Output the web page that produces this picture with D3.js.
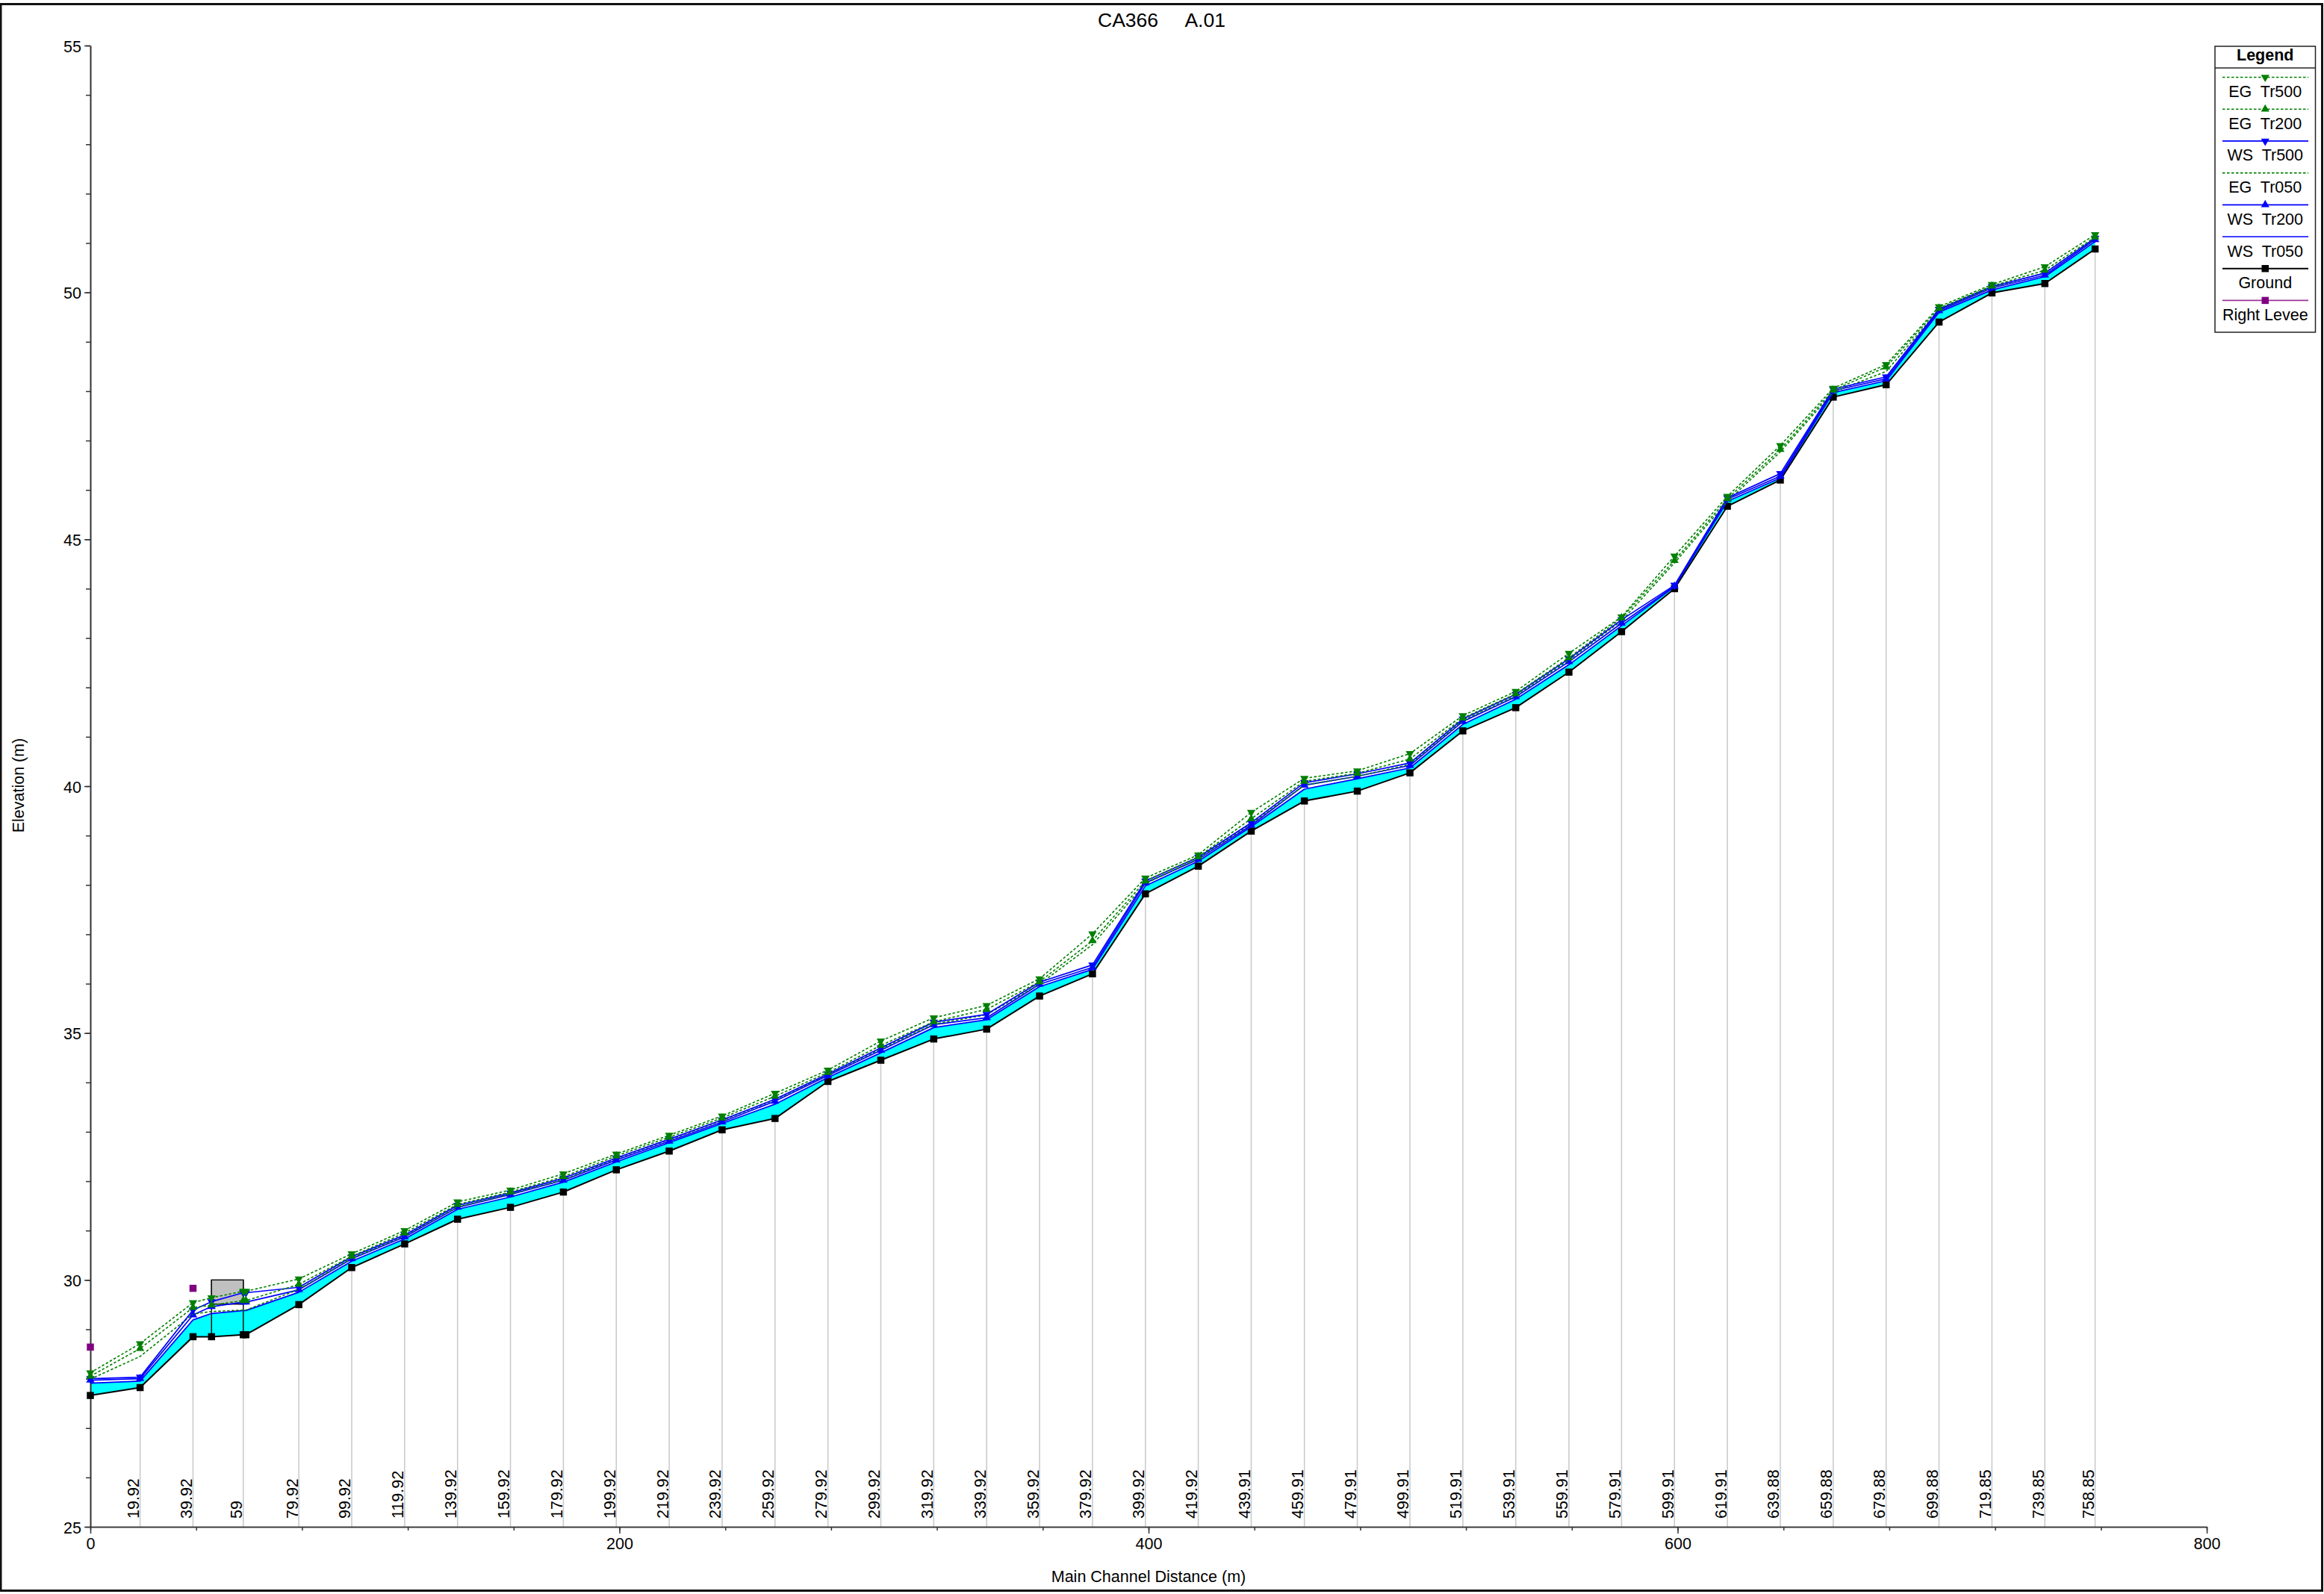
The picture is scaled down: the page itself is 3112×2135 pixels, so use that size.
<!DOCTYPE html>
<html>
<head>
<meta charset="utf-8">
<title>CA366 A.01</title>
<script src="https://cdnjs.cloudflare.com/ajax/libs/d3/7.8.5/d3.min.js"></script>
<style>
html,body{margin:0;padding:0;background:#fff;}
svg{display:block;}
text{font-family:"Liberation Sans",Arial,sans-serif;fill:#000;white-space:pre;}
</style>
</head>
<body>
<div id="chart"></div>
<script>
// ---------- data ----------
const distance = [0,18.8,38.8,45.8,57.8,58.8,78.8,98.8,118.8,138.8,158.8,178.8,198.8,218.8,238.8,258.8,278.8,298.8,318.8,338.8,358.8,378.8,398.8,418.8,438.8,458.9,478.9,498.8,518.8,538.8,558.9,578.8,598.8,618.8,638.8,658.8,678.8,698.8,718.8,738.8,757.8];
const stationLabels = ["","19.92","39.92","","59","","79.92","99.92","119.92","139.92","159.92","179.92","199.92","219.92","239.92","259.92","279.92","299.92","319.92","339.92","359.92","379.92","399.92","419.92","439.91","459.91","479.91","499.91","519.91","539.91","559.91","579.91","599.91","619.91","639.88","659.88","679.88","699.88","719.85","739.85","758.85"];
const ground = [27.66,27.82,28.85,28.85,28.89,28.89,29.50,30.25,30.73,31.23,31.47,31.78,32.23,32.61,33.04,33.27,34.02,34.45,34.88,35.08,35.75,36.20,37.82,38.38,39.09,39.70,39.90,40.27,41.12,41.59,42.31,43.13,44.00,45.67,46.20,47.88,48.13,49.40,49.99,50.18,50.88];
const wsTr050 = [27.91,27.95,29.19,29.32,29.38,29.38,29.75,30.38,30.83,31.43,31.68,31.98,32.39,32.78,33.17,33.56,34.10,34.60,35.11,35.27,35.94,36.29,37.98,38.48,39.18,39.94,40.15,40.37,41.25,41.76,42.46,43.25,44.04,45.77,46.24,47.97,48.21,49.60,50.05,50.32,51.03];
const wsTr200 = [27.97,28.00,29.29,29.46,29.55,29.55,29.80,30.43,30.87,31.47,31.73,32.02,32.43,32.81,33.20,33.62,34.14,34.65,35.17,35.31,35.99,36.33,38.04,38.52,39.21,40.02,40.20,40.42,41.31,41.81,42.52,43.30,44.05,45.81,46.28,48.01,48.25,49.63,50.09,50.35,51.07];
const wsTr500 = [28.00,28.03,29.39,29.56,29.74,29.74,29.85,30.47,30.91,31.51,31.76,32.06,32.47,32.85,33.24,33.66,34.17,34.70,35.22,35.38,36.03,36.38,38.08,38.56,39.26,40.07,40.25,40.47,41.36,41.86,42.58,43.37,44.07,45.84,46.33,48.04,48.29,49.66,50.12,50.39,51.10];
const egTr050 = [27.99,28.45,29.31,29.36,29.39,29.39,29.81,30.44,30.89,31.48,31.74,32.03,32.46,32.84,33.23,33.65,34.16,34.68,35.18,35.37,35.99,36.79,38.03,38.53,39.24,40.02,40.20,40.44,41.33,41.83,42.55,43.35,44.52,45.77,46.77,47.98,48.40,49.65,50.10,50.40,51.09];
const egTr200 = [28.05,28.61,29.44,29.49,29.58,29.58,29.91,30.48,30.95,31.53,31.78,32.09,32.51,32.89,33.28,33.72,34.20,34.75,35.23,35.48,36.04,36.87,38.08,38.57,39.34,40.10,40.26,40.55,41.38,41.87,42.60,43.41,44.57,45.82,46.82,48.02,48.49,49.68,50.13,50.45,51.12];
const egTr500 = [28.12,28.71,29.54,29.64,29.77,29.77,30.02,30.53,31.00,31.58,31.82,32.15,32.55,32.93,33.32,33.78,34.25,34.84,35.31,35.56,36.10,37.01,38.14,38.61,39.47,40.16,40.31,40.66,41.43,41.92,42.69,43.43,44.66,45.87,46.90,48.06,48.54,49.71,50.16,50.52,51.17];
const leveeDistance = [0,38.8];
const rightLevee = [28.64,29.83];
const culvertDistance = [45.8,57.8];
const culvertTop = 30.0;
const culvertLow = 29.51;
const xMajorTicks = [0,200,400,600,800];
const xMinorTicks = d3.range(0,801,40);
const yMajorTicks = [25,30,35,40,45,50,55];
const yMinorTicks = d3.range(25,56,1);
const legendNames = ["EG  Tr500","EG  Tr200","WS  Tr500","EG  Tr050","WS  Tr200","WS  Tr050","Ground","Right Levee"];

// ---------- layout ----------
const W = 3112, H = 2135;
const FS = 21.5;
const x = d3.scaleLinear().domain([0,800]).range([121,2955]);
const y = d3.scaleLinear().domain([25,55]).range([2045,61]);
const GREEN = "#008000", BLUE = "#0000ff", DASH = "3.5,2.5";

const series = [
  {name:legendNames[7], values:rightLevee, xs:leveeDistance, color:"#800080", width:0, marker:"square"},
  {name:legendNames[6], values:ground, color:"#000", width:2, marker:"square"},
  {name:legendNames[5], values:wsTr050, color:BLUE, width:1.7},
  {name:legendNames[4], values:wsTr200, color:BLUE, width:1.7, marker:"up"},
  {name:legendNames[3], values:egTr050, color:GREEN, width:1.6, dash:DASH},
  {name:legendNames[2], values:wsTr500, color:BLUE, width:1.7, marker:"down"},
  {name:legendNames[1], values:egTr200, color:GREEN, width:1.6, dash:DASH, marker:"up"},
  {name:legendNames[0], values:egTr500, color:GREEN, width:1.6, dash:DASH, marker:"down"}
];

const svg = d3.select("#chart").append("svg").attr("width",W).attr("height",H).attr("viewBox",[0,0,W,H]);
svg.append("rect").attr("width",W).attr("height",H).attr("fill","#fff");
svg.append("rect").attr("x",1).attr("y",5.5).attr("width",3108.5).attr("height",2125)
  .attr("fill","none").attr("stroke","#111").attr("stroke-width",3);

// title + axis titles
svg.append("text").attr("x",1555.5).attr("y",36).attr("text-anchor","middle").attr("font-size",26.5).text("CA366     A.01");
svg.append("text").attr("x",1538).attr("y",2119).attr("text-anchor","middle").attr("font-size",FS).text("Main Channel Distance (m)");
svg.append("text").attr("transform","translate(32,1052) rotate(-90)").attr("text-anchor","middle").attr("font-size",FS).text("Elevation (m)");

// station lines
svg.append("g").selectAll("line").data(distance.map((d,i)=>({d,i})).filter(o=>o.d>0 && stationLabels[o.i]!==""))
  .join("line")
  .attr("x1",o=>x(o.d)).attr("x2",o=>x(o.d))
  .attr("y1",y(25)).attr("y2",o=>y(ground[o.i]))
  .attr("stroke","#c8c8c8").attr("stroke-width",1.5);

// water fill between ground and the lowest water surface
svg.append("path").datum(distance.map((d,i)=>i))
  .attr("d",d3.area().x(i=>x(distance[i])).y0(i=>y(ground[i])).y1(i=>y(wsTr050[i])))
  .attr("fill","#00ffff");

// culvert / bridge
const groundAt = d => ground[distance.indexOf(d)];
svg.append("rect")
  .attr("x",x(culvertDistance[0])).attr("width",x(culvertDistance[1])-x(culvertDistance[0]))
  .attr("y",y(culvertTop)).attr("height",y(culvertLow)-y(culvertTop))
  .attr("fill","#c0c0c0").attr("stroke","#111").attr("stroke-width",1.5);
svg.append("g").selectAll("line").data(culvertDistance).join("line")
  .attr("x1",d=>x(d)).attr("x2",d=>x(d)).attr("y1",y(culvertTop)).attr("y2",d=>y(groundAt(d)))
  .attr("stroke","#111").attr("stroke-width",1.5);

// axes
function styleAxis(g){
  g.selectAll("path.domain").attr("stroke","#333").attr("stroke-width",1.6);
  g.selectAll(".tick line").attr("stroke","#333").attr("stroke-width",1.5);
  g.selectAll("text").attr("font-size",FS).attr("font-family",'"Liberation Sans",Arial,sans-serif').attr("fill","#000");
}
svg.append("g").attr("transform",`translate(0,${y(25)})`)
  .call(d3.axisBottom(x).tickValues(xMinorTicks).tickSize(5).tickSizeOuter(0).tickFormat("")).call(styleAxis);
svg.append("g").attr("transform",`translate(0,${y(25)})`)
  .call(d3.axisBottom(x).tickValues(xMajorTicks).tickSize(9).tickSizeOuter(0).tickPadding(6).tickFormat(d3.format("d"))).call(styleAxis);
svg.append("g").attr("transform",`translate(${x(0)},0)`)
  .call(d3.axisLeft(y).tickValues(yMinorTicks).tickSize(6).tickSizeOuter(0).tickFormat("")).call(styleAxis);
svg.append("g").attr("transform",`translate(${x(0)},0)`)
  .call(d3.axisLeft(y).tickValues(yMajorTicks).tickSize(8).tickSizeOuter(0).tickPadding(4).tickFormat(d3.format("d"))).call(styleAxis)
  .selectAll("text").attr("dy","0.38em");

// station labels
svg.append("g").selectAll("text").data(distance.map((d,i)=>({d,i})).filter(o=>stationLabels[o.i]!==""))
  .join("text")
  .attr("transform",o=>`translate(${x(o.d)-1.5},2034) rotate(-90)`)
  .attr("font-size",FS).text(o=>stationLabels[o.i]);

// marker helper
const symSquare = d3.symbol().type(d3.symbolSquare).size(90)();
const symTri = d3.symbol().type(d3.symbolTriangle).size(55)();
function drawMarker(sel, kind, color, px, py){
  if(!kind) return;
  const rot = kind==="down" ? " rotate(180)" : "";
  sel.append("path").attr("d",kind==="square"?symSquare:symTri)
    .attr("transform",`translate(${px},${py})${rot}`).attr("fill",color);
}

// series
series.forEach(s=>{
  const xs = s.xs || distance;
  const g = svg.append("g");
  if(s.width>0){
    g.append("path").datum(s.values)
      .attr("d",d3.line().x((v,i)=>x(xs[i])).y(v=>y(v)))
      .attr("fill","none").attr("stroke",s.color).attr("stroke-width",s.width)
      .attr("stroke-dasharray",s.dash||null).attr("stroke-linejoin","round");
  }
  if(s.marker){
    s.values.forEach((v,i)=>drawMarker(g,s.marker,s.color,x(xs[i]),y(v)));
  }
});

// legend
const lg = svg.append("g");
const LX0=2966, LX1=3100.5, LY0=62, LY1=445, LH=91, LCX=(LX0+LX1)/2;
lg.append("rect").attr("x",LX0).attr("y",LY0).attr("width",LX1-LX0).attr("height",LY1-LY0)
  .attr("fill","#fff").attr("stroke","#222").attr("stroke-width",1.5);
lg.append("line").attr("x1",LX0).attr("x2",LX1).attr("y1",LH).attr("y2",LH).attr("stroke","#222").attr("stroke-width",1.5);
lg.append("text").attr("x",LCX).attr("y",81).attr("text-anchor","middle").attr("font-size",FS).attr("font-weight","bold").text("Legend");
legendNames.forEach((name,i)=>{
  const s = series.find(o=>o.name===name);
  const ly = 103.5 + i*42.7;
  lg.append("line").attr("x1",2976).attr("x2",3091).attr("y1",ly).attr("y2",ly)
    .attr("stroke",s.color).attr("stroke-width",s.width||1.6).attr("stroke-dasharray",s.dash||null)
    .attr("stroke-opacity",s.color==="#800080"?0.8:1);
  drawMarker(lg,s.marker,s.color,LCX,ly);
  lg.append("text").attr("x",LCX).attr("y",ly+26.5).attr("text-anchor","middle").attr("font-size",FS).text(name);
});
</script>
</body>
</html>
